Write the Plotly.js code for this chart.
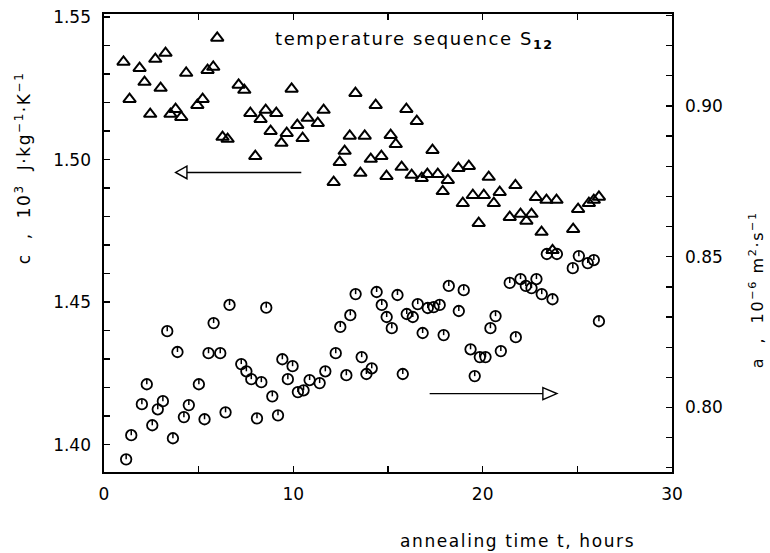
<!DOCTYPE html>
<html>
<head>
<meta charset="utf-8">
<script src="https://cdn.plot.ly/plotly-3.0.1.min.js"></script>
<style>
  html, body { margin: 0; padding: 0; background: #fff; }
  .annotation-text { letter-spacing: 1.6px; }
</style>
</head>
<body>
<div id="chart" style="width:770px;height:553px;"></div>
<script>
// annealing time (hours) for the specific heat series c (triangles, left axis)
const timeC = [1.03,1.35,1.88,2.14,2.44,2.71,2.99,3.25,3.51,3.78,4.08,4.34,4.93,5.21,5.47,5.77,5.98,6.26,6.53,7.11,
  7.41,7.73,7.99,8.27,8.54,8.80,9.10,9.37,9.65,9.91,10.21,10.49,10.76,11.29,11.60,12.13,12.45,12.71,12.98,13.28,
  13.54,13.77,14.09,14.35,14.65,14.92,15.14,15.41,15.72,15.97,16.25,16.52,16.78,17.08,17.35,17.63,17.89,18.16,18.72,18.95,
  19.27,19.48,19.79,20.06,20.32,20.59,20.90,21.43,21.73,22.00,22.31,22.58,22.81,23.11,23.37,23.69,23.90,24.78,25.04,25.61,
  25.87,26.14];
// specific heat c, 10^3 J kg^-1 K^-1
const cValues = [1.5343,1.5212,1.5321,1.5272,1.5160,1.5353,1.5251,1.5374,1.5160,1.5177,1.5149,1.5304,1.5191,1.5212,1.5314,1.5325,1.5427,1.5079,1.5072,1.5262,
  1.5244,1.5163,1.5012,1.5142,1.5174,1.5100,1.5163,1.5058,1.5093,1.5248,1.5121,1.5075,1.5146,1.5128,1.5174,1.4921,1.4991,1.5030,1.5083,1.5233,
  1.4953,1.5083,1.5002,1.5191,1.5012,1.4942,1.5086,1.5054,1.4974,1.5177,1.4946,1.5135,1.4935,1.4949,1.5033,1.4949,1.4889,1.4928,1.4970,1.4847,
  1.4977,1.4875,1.4777,1.4875,1.4939,1.4847,1.4886,1.4798,1.4910,1.4809,1.4785,1.4809,1.4868,1.4746,1.4858,1.4682,1.4858,1.4756,1.4826,1.4847,
  1.4858,1.4869];
// annealing time (hours) for the thermal diffusivity series a (circles, right axis)
const timeA = [1.17,1.44,2.00,2.26,2.55,2.84,3.11,3.34,3.64,3.88,4.22,4.48,5.01,5.31,5.52,5.79,6.14,6.42,6.63,7.25,
  7.52,7.78,8.08,8.31,8.57,8.89,9.19,9.42,9.71,9.96,10.24,10.54,10.86,11.39,11.69,12.24,12.48,12.80,13.01,13.29,
  13.61,13.86,14.14,14.40,14.67,14.93,15.20,15.50,15.78,15.99,16.31,16.57,16.83,17.10,17.41,17.73,17.94,18.21,18.74,19.00,
  19.36,19.58,19.85,20.15,20.41,20.68,20.96,21.43,21.75,22.00,22.28,22.58,22.84,23.12,23.39,23.69,23.92,24.76,25.08,25.55,
  25.87,26.14];
// thermal diffusivity a, 10^-6 m^2 s^-1
const aValues = [0.7828,0.7908,0.8011,0.8077,0.7941,0.7994,0.8021,0.8253,0.7898,0.8184,0.7968,0.8008,0.8077,0.7961,0.8180,0.8280,0.8180,0.7984,0.8340,0.8144,
  0.8120,0.8094,0.7964,0.8084,0.8331,0.8037,0.7974,0.8160,0.8094,0.8137,0.8051,0.8057,0.8091,0.8081,0.8120,0.8180,0.8267,0.8107,0.8306,0.8376,
  0.8167,0.8111,0.8130,0.8383,0.8340,0.8300,0.8263,0.8373,0.8111,0.8310,0.8300,0.8343,0.8247,0.8330,0.8333,0.8340,0.8240,0.8403,0.8320,0.8389,
  0.8193,0.8104,0.8167,0.8167,0.8263,0.8303,0.8187,0.8413,0.8233,0.8426,0.8403,0.8396,0.8426,0.8376,0.8509,0.8359,0.8509,0.8462,0.8502,0.8479,
  0.8489,0.8286];

const xTickVals = [0, 10, 20, 30];
const xTickText = ['0', '10', '20', '30'];
const yLeftTickVals = [1.40, 1.45, 1.50, 1.55];
const yLeftTickText = ['1.40', '1.45', '1.50', '1.55'];
const yRightTickVals = [0.80, 0.85, 0.90];
const yRightTickText = ['0.80', '0.85', '0.90'];

const traces = [
  {
    x: timeC, y: cValues, type: 'scatter', mode: 'markers', yaxis: 'y', name: 'c',
    marker: { symbol: 'triangle-up-open', size: 11, color: '#000', line: { width: 2, color: '#000' } }
  },
  {
    x: timeA, y: aValues, type: 'scatter', mode: 'markers', yaxis: 'y2', name: 'a',
    marker: { symbol: 'circle-open', size: 10.5, color: '#000', line: { width: 1.8, color: '#000' } }
  },
  {
    x: timeA, y: aValues, type: 'scatter', mode: 'markers', yaxis: 'y2', name: 'a tick',
    hoverinfo: 'skip',
    marker: { symbol: 'line-ns-open', size: 3.6, angle: 180, standoff: 2.5, color: '#000', line: { width: 1.5, color: '#000' } }
  }
];

const axisFont = { family: 'DejaVu Sans', size: 17, color: '#000' };

const layout = {
  width: 770, height: 553,
  margin: { l: 104, r: 98, t: 14, b: 81 },
  paper_bgcolor: '#fff', plot_bgcolor: '#fff',
  showlegend: false,
  font: { family: 'DejaVu Sans', color: '#000' },
  xaxis: {
    range: [0, 30], tickmode: 'array', tickvals: xTickVals, ticktext: xTickText,
    ticks: 'inside', ticklen: 6, tickwidth: 1.3, tickcolor: '#000',
    minor: { dtick: 5, tick0: 0, ticks: 'inside', ticklen: 6, tickwidth: 1.3, tickcolor: '#000' },
    showline: true, linecolor: '#000', linewidth: 1.6, mirror: 'ticks',
    showgrid: false, zeroline: false, tickfont: axisFont, ticklabelstandoff: 6
  },
  yaxis: {
    range: [1.3904, 1.5511], tickmode: 'array', tickvals: yLeftTickVals, ticktext: yLeftTickText,
    ticks: 'inside', ticklen: 6, tickwidth: 1.3, tickcolor: '#000',
    minor: { dtick: 0.01, tick0: 1.40, ticks: 'inside', ticklen: 6, tickwidth: 1.3, tickcolor: '#000' },
    showline: true, linecolor: '#000', linewidth: 1.6,
    showgrid: false, zeroline: false, tickfont: axisFont, ticklabelstandoff: 8
  },
  yaxis2: {
    range: [0.7786, 0.9305], overlaying: 'y', side: 'right',
    tickmode: 'array', tickvals: yRightTickVals, ticktext: yRightTickText,
    ticks: 'inside', ticklen: 6, tickwidth: 1.3, tickcolor: '#000',
    minor: { dtick: 0.01, tick0: 0.80, ticks: 'inside', ticklen: 6, tickwidth: 1.3, tickcolor: '#000' },
    showline: true, linecolor: '#000', linewidth: 1.6,
    showgrid: false, zeroline: false, tickfont: axisFont, ticklabelstandoff: 8
  },
  annotations: [
    {
      text: 'temperature sequence S<b><sub>12</sub></b>', xref: 'paper', yref: 'paper',
      x: 0.297, y: 0.943, xanchor: 'left', yanchor: 'middle', showarrow: false,
      font: { family: 'DejaVu Sans', size: 18, color: '#000' }
    },
    {
      text: 'annealing time t, hours', xref: 'paper', yref: 'paper',
      x: 0.517, y: -0.151, xanchor: 'left', yanchor: 'middle', showarrow: false,
      font: { family: 'DejaVu Sans', size: 17, color: '#000' }
    },
    {
      text: 'c\u00a0\u00a0,\u00a0\u00a010<sup>3</sup>\u00a0\u00a0J\u00b7kg<sup>\u22121</sup>\u00b7K<sup>\u22121</sup>',
      xref: 'paper', yref: 'paper', x: -0.1436, y: 0.664, xanchor: 'center', yanchor: 'middle',
      textangle: -90, showarrow: false, font: { family: 'DejaVu Sans', size: 17, color: '#000' }
    },
    {
      text: 'a\u00a0\u00a0,\u00a0\u00a010<sup>\u22126</sup>\u00a0m<sup>2</sup>\u00b7s<sup>\u22121</sup>',
      xref: 'paper', yref: 'paper', x: 1.148, y: 0.397, xanchor: 'center', yanchor: 'middle',
      textangle: -90, showarrow: false, font: { family: 'DejaVu Sans', size: 16, color: '#000' }
    }
  ],
  shapes: [
    { type: 'line', xref: 'x', yref: 'y', x0: 10.42, x1: 4.38, y0: 1.4955, y1: 1.4955, line: { color: '#000', width: 1.4 } },
    { type: 'path', xref: 'x', yref: 'y', path: 'M 4.38 1.4977 L 3.78 1.4955 L 4.38 1.4933 Z', line: { color: '#000', width: 1.4 }, fillcolor: 'rgba(0,0,0,0)' },
    { type: 'line', xref: 'x', yref: 'y2', x0: 17.2, x1: 23.18, y0: 0.8046, y1: 0.8046, line: { color: '#000', width: 1.4 } },
    { type: 'path', xref: 'x', yref: 'y2', path: 'M 23.18 0.8066 L 23.92 0.8046 L 23.18 0.8026 Z', line: { color: '#000', width: 1.4 }, fillcolor: 'rgba(0,0,0,0)' }
  ]
};

Plotly.newPlot('chart', traces, layout, { staticPlot: true, displayModeBar: false });
</script>
</body>
</html>
